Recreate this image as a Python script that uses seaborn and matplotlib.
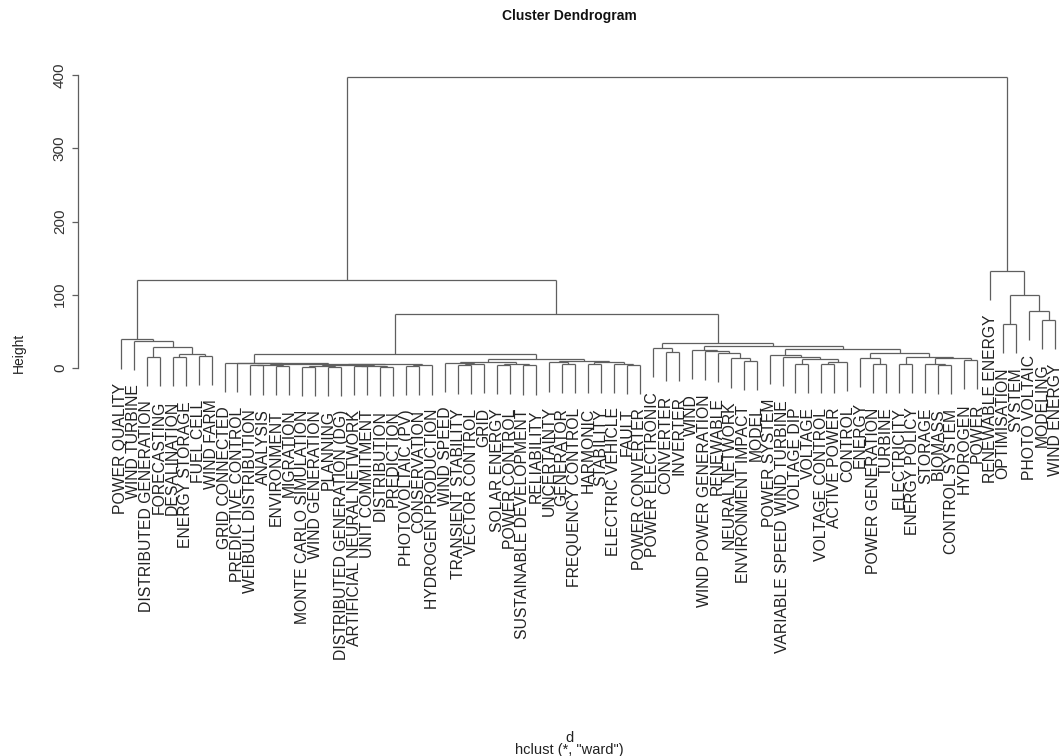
import matplotlib
matplotlib.use("Agg")
import matplotlib.pyplot as plt
import seaborn as sns

sns.set_style("white")
plt.rcParams['font.family'] = ['Liberation Sans', 'DejaVu Sans']

# Leaf labels, in the order they appear along the x axis
leaf_labels = [
    "POWER QUALITY", "WIND TURBINE", "DISTRIBUTED GENERATION", "FORECASTING",
    "DESALINATION", "ENERGY STORAGE", "FUEL CELL", "WIND FARM",
    "GRID CONNECTED", "PREDICTIVE CONTROL", "WEIBULL DISTRIBUTION", "ANALYSIS",
    "ENVIRONMENT", "MIGRATION", "MONTE CARLO SIMULATION", "WIND GENERATION",
    "PLANNING", "DISTRIBUTED GENERATION (DG)", "ARTIFICIAL NEURAL NETWORK",
    "UNIT COMMITMENT", "DISTRIBUTION", "PREDICTION", "PHOTOVOLTAIC (PV)",
    "CONSERVATION", "HYDROGEN PRODUCTION", "WIND SPEED", "TRANSIENT STABILITY",
    "VECTOR CONTROL", "GRID", "SOLAR ENERGY", "POWER CONTROL",
    "SUSTAINABLE DEVELOPMENT", "RELIABILITY", "UNCERTAINTY", "GENERATOR",
    "FREQUENCY CONTROL", "HARMONIC", "STABILITY", "ELECTRIC VEHICLE", "FAULT",
    "POWER CONVERTER", "POWER ELECTRONIC", "CONVERTER", "INVERTER", "WIND",
    "WIND POWER GENERATION", "RENEWABLE", "NEURAL NETWORK", "ENVIRONMENT IMPACT",
    "MODEL", "POWER SYSTEM", "VARIABLE SPEED WIND TURBINE", "VOLTAGE DIP",
    "VOLTAGE", "VOLTAGE CONTROL", "ACTIVE POWER", "CONTROL", "ENERGY",
    "POWER GENERATION", "TURBINE", "ELECTRICITY", "ENERGY POLICY", "STORAGE",
    "BIOMASS", "CONTROL SYSTEM", "HYDROGEN", "POWER",
    "RENEWABLE ENERGY", "OPTIMISATION", "SYSTEM", "PHOTO VOLTAIC", "MODELING",
    "WIND ENERGY",
]

# Sub-trees as (left, right, merge height); ints are leaf indices
cluster_a = (0, (1, ((2, 3, 15.5), ((4, 5, 14.6), (6, 7, 16.8), 18.7), 29.1), 37.5), 39.0)

cluster_b_left = (8, (9, (((10, 11, 3.5), (12, 13, 2.5), 4.5),
                          ((((14, 15, 2.0), (16, 17, 2.0), 3.0),
                            ((18, 19, 2.5), (20, 21, 2.0), 3.0), 4.2),
                           ((22, 23, 2.5), 24, 3.5), 4.8), 5.8), 6.4), 6.8)

cluster_b_right = (((25, ((26, 27, 4.0), 28, 5.5), 7.0),
                    ((29, 30, 4.5), (31, 32, 3.5), 6.0), 8.6),
                   ((33, (34, 35, 5.0), 7.5),
                    ((36, 37, 5.0), (38, (39, 40, 4.5), 6.0), 8.0), 10.0), 12.5)

cluster_c = ((41, (42, 43, 22.0), 27.0),
             ((44, (45, (46, (47, (48, 49, 9.0), 13.0), 20.0), 23.0), 24.6),
              ((50, (51, ((52, 53, 6.0), ((54, 55, 5.0), 56, 8.0), 12.0), 15.5), 17.7),
               ((57, (58, 59, 6.0), 14.0),
                ((60, 61, 6.0), ((62, (63, 64, 4.0), 6.0), (65, 66, 11.0), 13.0), 15.5), 20.0),
               25.5), 30.0), 33.7)

cluster_d = (67, ((68, 69, 60.0), (70, (71, 72, 65.5), 77.8), 99.7), 132.4)

# Heights of the upper merges
height_b = 19.5
height_bc = 73.7
height_left = 120.1
height_root = 397.0

tree = ((cluster_a, ((cluster_b_left, cluster_b_right, height_b), cluster_c, height_bc),
         height_left), cluster_d, height_root)

hang = 0.1 * height_root
line_kw = dict(color="#5f5f5f", linewidth=0.9, solid_capstyle="butt", clip_on=False)

fig = plt.figure(figsize=(10.61, 7.56), dpi=100)
ax = fig.add_axes([78 / 1061, 111 / 756, 983 / 1061, 585 / 756])


def draw(node):
    # returns x position and height of the node (None for a leaf)
    if isinstance(node, int):
        return float(node), None
    left, right, h = node
    xl, hl = draw(left)
    xr, hr = draw(right)
    ax.plot([xl, xr], [h, h], **line_kw)
    for x, hc, child in ((xl, hl, left), (xr, hr, right)):
        bottom = hc if hc is not None else h - hang
        ax.plot([x, x], [h, bottom], **line_kw)
        if hc is None:
            ax.annotate(leaf_labels[child], xy=(x, bottom), xytext=(0, -10.5),
                        textcoords="offset points", rotation=90, ha="center",
                        va="top", fontsize=11.3, color="#222222",
                        annotation_clip=False)
    return (xl + xr) / 2, h


draw(tree)

ax.set_xlim(-3.29, 72.46)
ax.set_ylim(-378.2, 420.5)
for side in ["top", "right", "bottom"]:
    ax.spines[side].set_visible(False)
ax.spines["left"].set_bounds(0, 400)
ax.spines["left"].set_color("#5f5f5f")
ax.spines["left"].set_linewidth(0.9)
ax.set_xticks([])
ax.set_yticks([0, 100, 200, 300, 400])
ax.tick_params(axis="y", left=True, length=4.5, width=0.9, color="#5f5f5f",
               pad=3.5, labelsize=11, labelcolor="#333333")
for lab in ax.get_yticklabels():
    lab.set_rotation(90)
    lab.set_va("center")

ax.set_ylabel("Height", fontsize=10, color="#222222")
ax.yaxis.set_label_coords(-0.053, 0.5)
ax.set_title("Cluster Dendrogram", fontsize=10, fontweight="bold", pad=29, color="#111111")

fig.text(569.5 / 1061, 1 - 738 / 756, "d", ha="center", va="center", fontsize=10.5, color="#222222")
fig.text(569.5 / 1061, 1 - 750 / 756, 'hclust (*, "ward")', ha="center", va="center",
         fontsize=10.5, color="#222222")

fig.savefig("out.png", dpi=100)
